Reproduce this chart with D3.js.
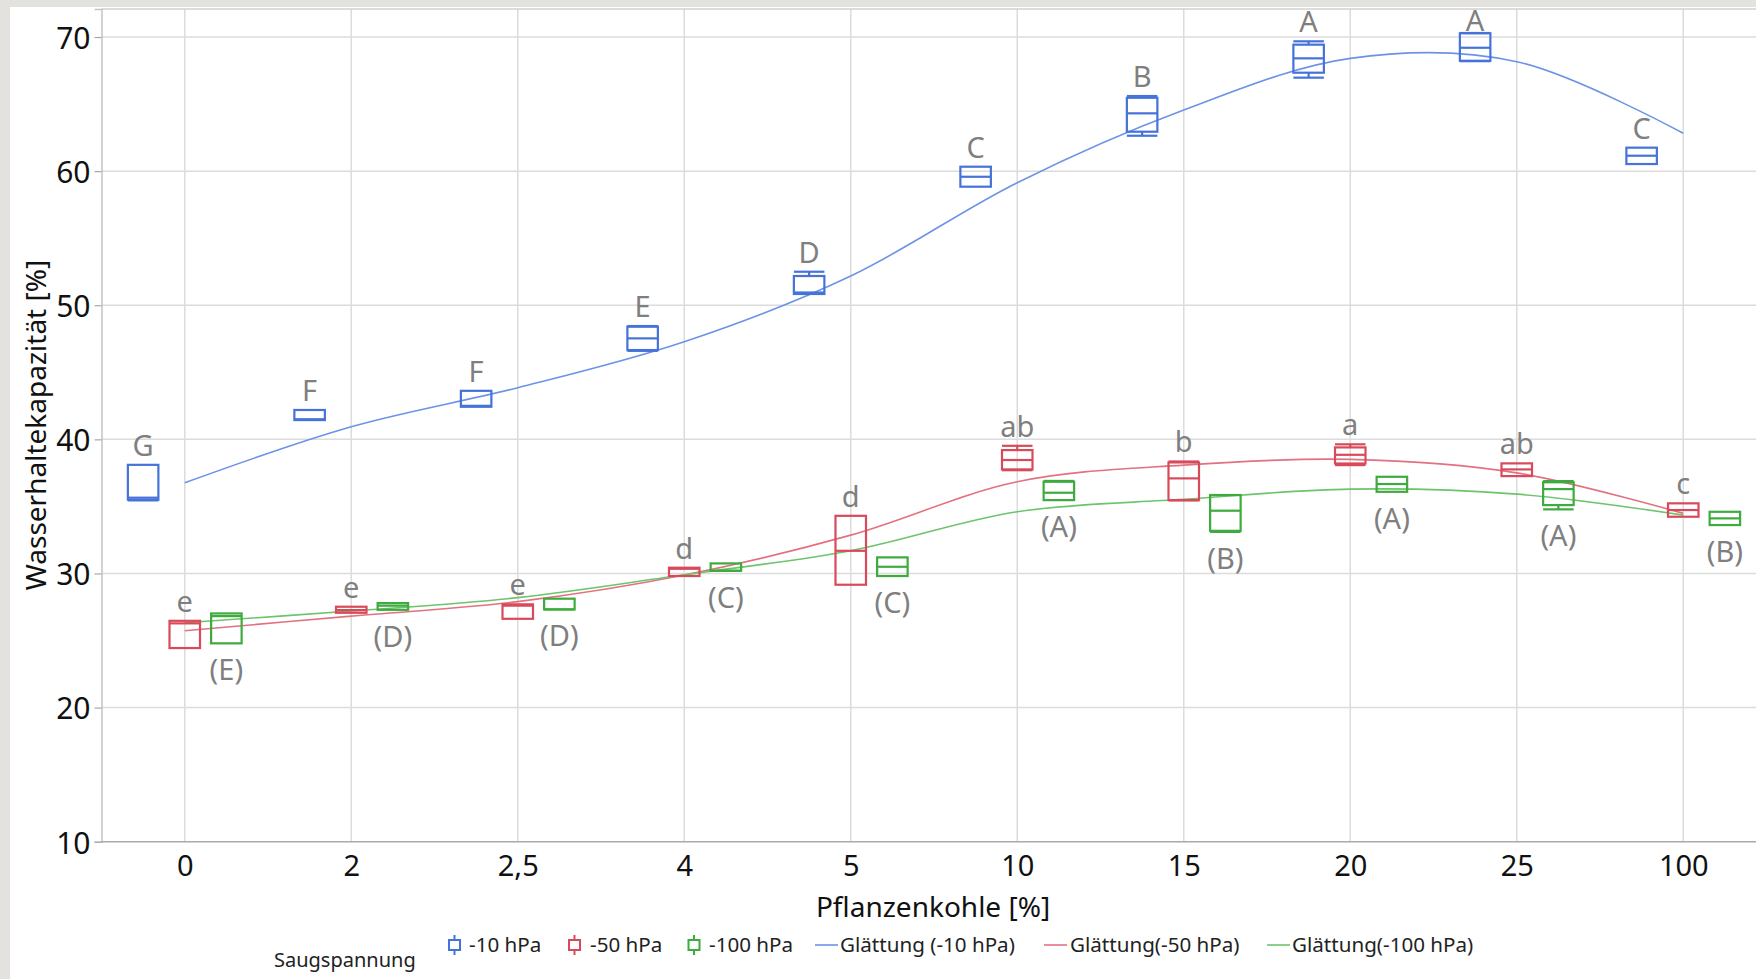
<!DOCTYPE html>
<html>
<head>
<meta charset="utf-8">
<script src="https://cdn.jsdelivr.net/npm/d3@7"></script>
<style>
  html, body { margin: 0; padding: 0; background: #e4e2de; }
  svg { display: block; font-family: "Noto Sans", "Open Sans", sans-serif; }
</style>
</head>
<body>
<svg id="chart" width="1756" height="979"></svg>
<script>
// Pflanzenkohle-Anteil (categorical x axis)
const categories = ["0", "2", "2,5", "4", "5", "10", "15", "20", "25", "100"];
const seriesNames = ["-10 hPa", "-50 hPa", "-100 hPa"];
const smoothNames = ["Glättung (-10 hPa)", "Glättung(-50 hPa)", "Glättung(-100 hPa)"];
const yTicks = [10, 20, 30, 40, 50, 60, 70];

// Box statistics, Saugspannung -10 hPa
const min10 = [35.45, 41.44, 42.43, 46.60, 50.84, 58.84, 62.64, 66.97, 68.20, 60.53];
const q1_10 = [35.50, 41.44, 42.43, 46.66, 50.84, 58.84, 62.94, 67.34, 68.23, 60.53];
const med10 = [35.65, 41.50, 42.50, 47.53, 50.95, 59.58, 64.31, 68.41, 69.20, 61.15];
const q3_10 = [38.10, 42.19, 43.62, 48.40, 52.18, 60.33, 65.47, 69.43, 70.28, 61.75];
const max10 = [38.10, 42.19, 43.62, 48.45, 52.50, 60.33, 65.60, 69.68, 70.30, 61.75];

// Box statistics, Saugspannung -50 hPa
const min50 = [24.44, 27.07, 26.62, 29.81, 29.16, 37.70, 35.45, 38.08, 37.26, 34.23];
const q1_50 = [24.44, 27.07, 26.62, 29.81, 29.16, 37.76, 35.47, 38.20, 37.26, 34.23];
const med50 = [26.28, 27.27, 27.60, 30.35, 31.69, 38.46, 37.09, 38.85, 37.76, 34.73];
const q3_50 = [26.47, 27.52, 27.70, 30.43, 34.30, 39.20, 38.28, 39.40, 38.21, 35.23];
const max50 = [26.47, 27.52, 27.70, 30.43, 34.30, 39.52, 38.35, 39.63, 38.21, 35.23];

// Box statistics, Saugspannung -100 hPa
const min100 = [24.79, 27.29, 27.32, 30.20, 29.81, 35.47, 33.10, 36.09, 34.78, 33.61];
const q1_100 = [24.79, 27.29, 27.32, 30.20, 29.81, 35.47, 33.18, 36.09, 35.10, 33.61];
const med100 = [26.82, 27.60, 27.32, 30.20, 30.50, 36.02, 34.68, 36.67, 36.29, 34.11];
const q3_100 = [27.02, 27.79, 28.12, 30.75, 31.20, 36.84, 35.85, 37.21, 36.80, 34.60];
const max100 = [27.02, 27.79, 28.12, 30.75, 31.20, 36.90, 35.85, 37.21, 36.89, 34.60];

// Smoothed trend (Glättung) at each category
const smooth10 = [36.76, 40.94, 43.85, 47.28, 52.18, 59.14, 64.56, 68.41, 68.16, 62.82];
const smooth50 = [25.73, 26.82, 27.90, 29.88, 32.86, 36.84, 38.08, 38.51, 37.50, 34.48];
const smooth100 = [26.33, 27.20, 28.20, 29.90, 31.70, 34.60, 35.53, 36.29, 35.92, 34.35];

// Significance letters
const letters10 = ["G", "F", "F", "E", "D", "C", "B", "A", "A", "C"];
const letters50 = ["e", "e", "e", "d", "d", "ab", "b", "a", "ab", "c"];
const letters100 = ["(E)", "(D)", "(D)", "(C)", "(C)", "(A)", "(B)", "(A)", "(A)", "(B)"];

const boxColors = ["#4573d9", "#d84a5a", "#3dab3d"];
const lineColors = ["#6d93e6", "#e27280", "#6cc46c"];

const svg = d3.select("#chart");
const W = 1756, H = 979;

// page background and white panel
svg.append("rect").attr("width", W).attr("height", H).attr("fill", "#e4e2de");
svg.append("rect").attr("x", 10).attr("y", 7).attr("width", W - 10).attr("height", H - 7).attr("fill", "#ffffff");

const plotLeft = 101.5, plotTop = 9, plotBottom = 841.7;
const bandStep = 166.5;
const plotRight = plotLeft + bandStep * categories.length;

const x = d3.scalePoint().domain(categories).range([plotLeft, plotRight]).padding(0.5);
const y = d3.scaleLinear().domain([10, 72.09]).range([plotBottom, plotTop]);

// grid
const grid = svg.append("g");
grid.selectAll("line.h").data(yTicks.filter(v => v > 10)).join("line")
  .attr("x1", plotLeft).attr("x2", W).attr("y1", d => y(d)).attr("y2", d => y(d))
  .attr("stroke", "#dcdcdc").attr("stroke-width", 1.5);
grid.selectAll("line.v").data(categories).join("line")
  .attr("x1", d => x(d)).attr("x2", d => x(d)).attr("y1", plotTop).attr("y2", plotBottom)
  .attr("stroke", "#dcdcdc").attr("stroke-width", 1.5);

// frame
svg.append("line").attr("x1", plotLeft).attr("x2", W).attr("y1", plotTop).attr("y2", plotTop)
  .attr("stroke", "#d0d0d0").attr("stroke-width", 1.5);

// y axis
const yAxis = svg.append("g").attr("transform", `translate(${plotLeft},0)`)
  .call(d3.axisLeft(y).tickValues(yTicks).tickSize(7).tickPadding(4).tickFormat(d3.format("d")));
yAxis.select(".domain").attr("stroke", "#c4c4c4").attr("stroke-width", 1.5);
yAxis.selectAll(".tick line").attr("stroke", "#a8a8a8").attr("stroke-width", 1.2);
yAxis.selectAll(".tick text").attr("font-size", 30).attr("fill", "#111")
  .attr("font-family", "\"Noto Sans\", sans-serif").attr("dy", "0.38em");

// x axis
const xAxis = svg.append("g").attr("transform", `translate(0,${plotBottom})`)
  .call(d3.axisBottom(x).tickSize(0).tickPadding(14));
xAxis.select(".domain").remove();
xAxis.selectAll(".tick text").attr("font-size", 29).attr("fill", "#111")
  .attr("font-family", "\"Noto Sans\", sans-serif").attr("dy", "0.71em");
svg.append("line").attr("x1", plotLeft).attr("x2", W).attr("y1", plotBottom).attr("y2", plotBottom)
  .attr("stroke", "#a9a9a9").attr("stroke-width", 1.5);

// axis titles
svg.append("text").attr("x", 933).attr("y", 917).attr("text-anchor", "middle")
  .attr("font-size", 28).attr("fill", "#111").text("Pflanzenkohle [%]");
svg.append("text").attr("transform", "translate(46,425) rotate(-90)").attr("text-anchor", "middle")
  .attr("font-size", 28).attr("fill", "#111").text("Wasserhaltekapazität [%]");

// smoothed lines
const smoothSets = [smooth10, smooth50, smooth100];
const lineGen = d3.line().x((d, i) => x(categories[i])).y(d => y(d)).curve(d3.curveCatmullRom);
smoothSets.forEach((s, k) => {
  svg.append("path").datum(s).attr("d", lineGen).attr("fill", "none")
    .attr("stroke", lineColors[k]).attr("stroke-width", 1.6);
});

// box plots
const stats = [
  [min10, q1_10, med10, q3_10, max10],
  [min50, q1_50, med50, q3_50, max50],
  [min100, q1_100, med100, q3_100, max100]
];
const offsets = [-0.25 * bandStep, 0, 0.25 * bandStep];
const boxW = 30.5;
const letterSets = [letters10, letters50, letters100];

stats.forEach((st, k) => {
  const [mn, q1, md, q3, mx] = st;
  const g = svg.append("g").attr("stroke", boxColors[k]).attr("stroke-width", 2.2).attr("fill", "none");
  categories.forEach((c, i) => {
    const cx = x(c) + offsets[k];
    const x0 = cx - boxW / 2, x1 = cx + boxW / 2;
    if (mx[i] > q3[i]) {
      g.append("line").attr("x1", cx).attr("x2", cx).attr("y1", y(q3[i])).attr("y2", y(mx[i]));
      g.append("line").attr("x1", x0).attr("x2", x1).attr("y1", y(mx[i])).attr("y2", y(mx[i]));
    }
    if (mn[i] < q1[i]) {
      g.append("line").attr("x1", cx).attr("x2", cx).attr("y1", y(q1[i])).attr("y2", y(mn[i]));
      g.append("line").attr("x1", x0).attr("x2", x1).attr("y1", y(mn[i])).attr("y2", y(mn[i]));
    }
    g.append("rect").attr("x", x0).attr("y", y(q3[i])).attr("width", boxW)
      .attr("height", Math.max(0.5, y(q1[i]) - y(q3[i])));
    g.append("line").attr("x1", x0).attr("x2", x1).attr("y1", y(md[i])).attr("y2", y(md[i]));
  });

  // significance letters: above the box for -10/-50 hPa, below for -100 hPa
  const lg = svg.append("g").attr("fill", "#7f7f7f").attr("font-size", 29).attr("text-anchor", "middle");
  categories.forEach((c, i) => {
    const cx = x(c) + offsets[k];
    const ty = k < 2 ? Math.max(y(mx[i]) - 9, plotTop + 22) : y(mn[i]) + 37;
    lg.append("text").attr("x", cx).attr("y", ty).text(letterSets[k][i]);
  });
});

// legend
const leg = svg.append("g").attr("font-size", 20).attr("fill", "#222");
leg.append("text").attr("x", 274).attr("y", 967).text("Saugspannung");
const iconX = [454.5, 574.5, 694];
const iconTextX = [469, 590, 709];
seriesNames.forEach((n, k) => {
  const ig = leg.append("g").attr("stroke", boxColors[k]).attr("stroke-width", 2).attr("fill", "none");
  ig.append("line").attr("x1", iconX[k]).attr("x2", iconX[k]).attr("y1", 935).attr("y2", 955);
  ig.append("rect").attr("x", iconX[k] - 5.5).attr("y", 940).attr("width", 11).attr("height", 10).attr("fill", "#fff");
  leg.append("text").attr("x", iconTextX[k]).attr("y", 952).attr("font-size", 20.6).text(n);
});
const lineX0 = [815, 1044, 1267];
const lineTextX = [840, 1070, 1292];
smoothNames.forEach((n, k) => {
  leg.append("line").attr("x1", lineX0[k]).attr("x2", lineX0[k] + 23).attr("y1", 945).attr("y2", 945)
    .attr("stroke", lineColors[k]).attr("stroke-width", 1.6);
  leg.append("text").attr("x", lineTextX[k]).attr("y", 952).attr("font-size", 20.6).text(n);
});
</script>
</body>
</html>
